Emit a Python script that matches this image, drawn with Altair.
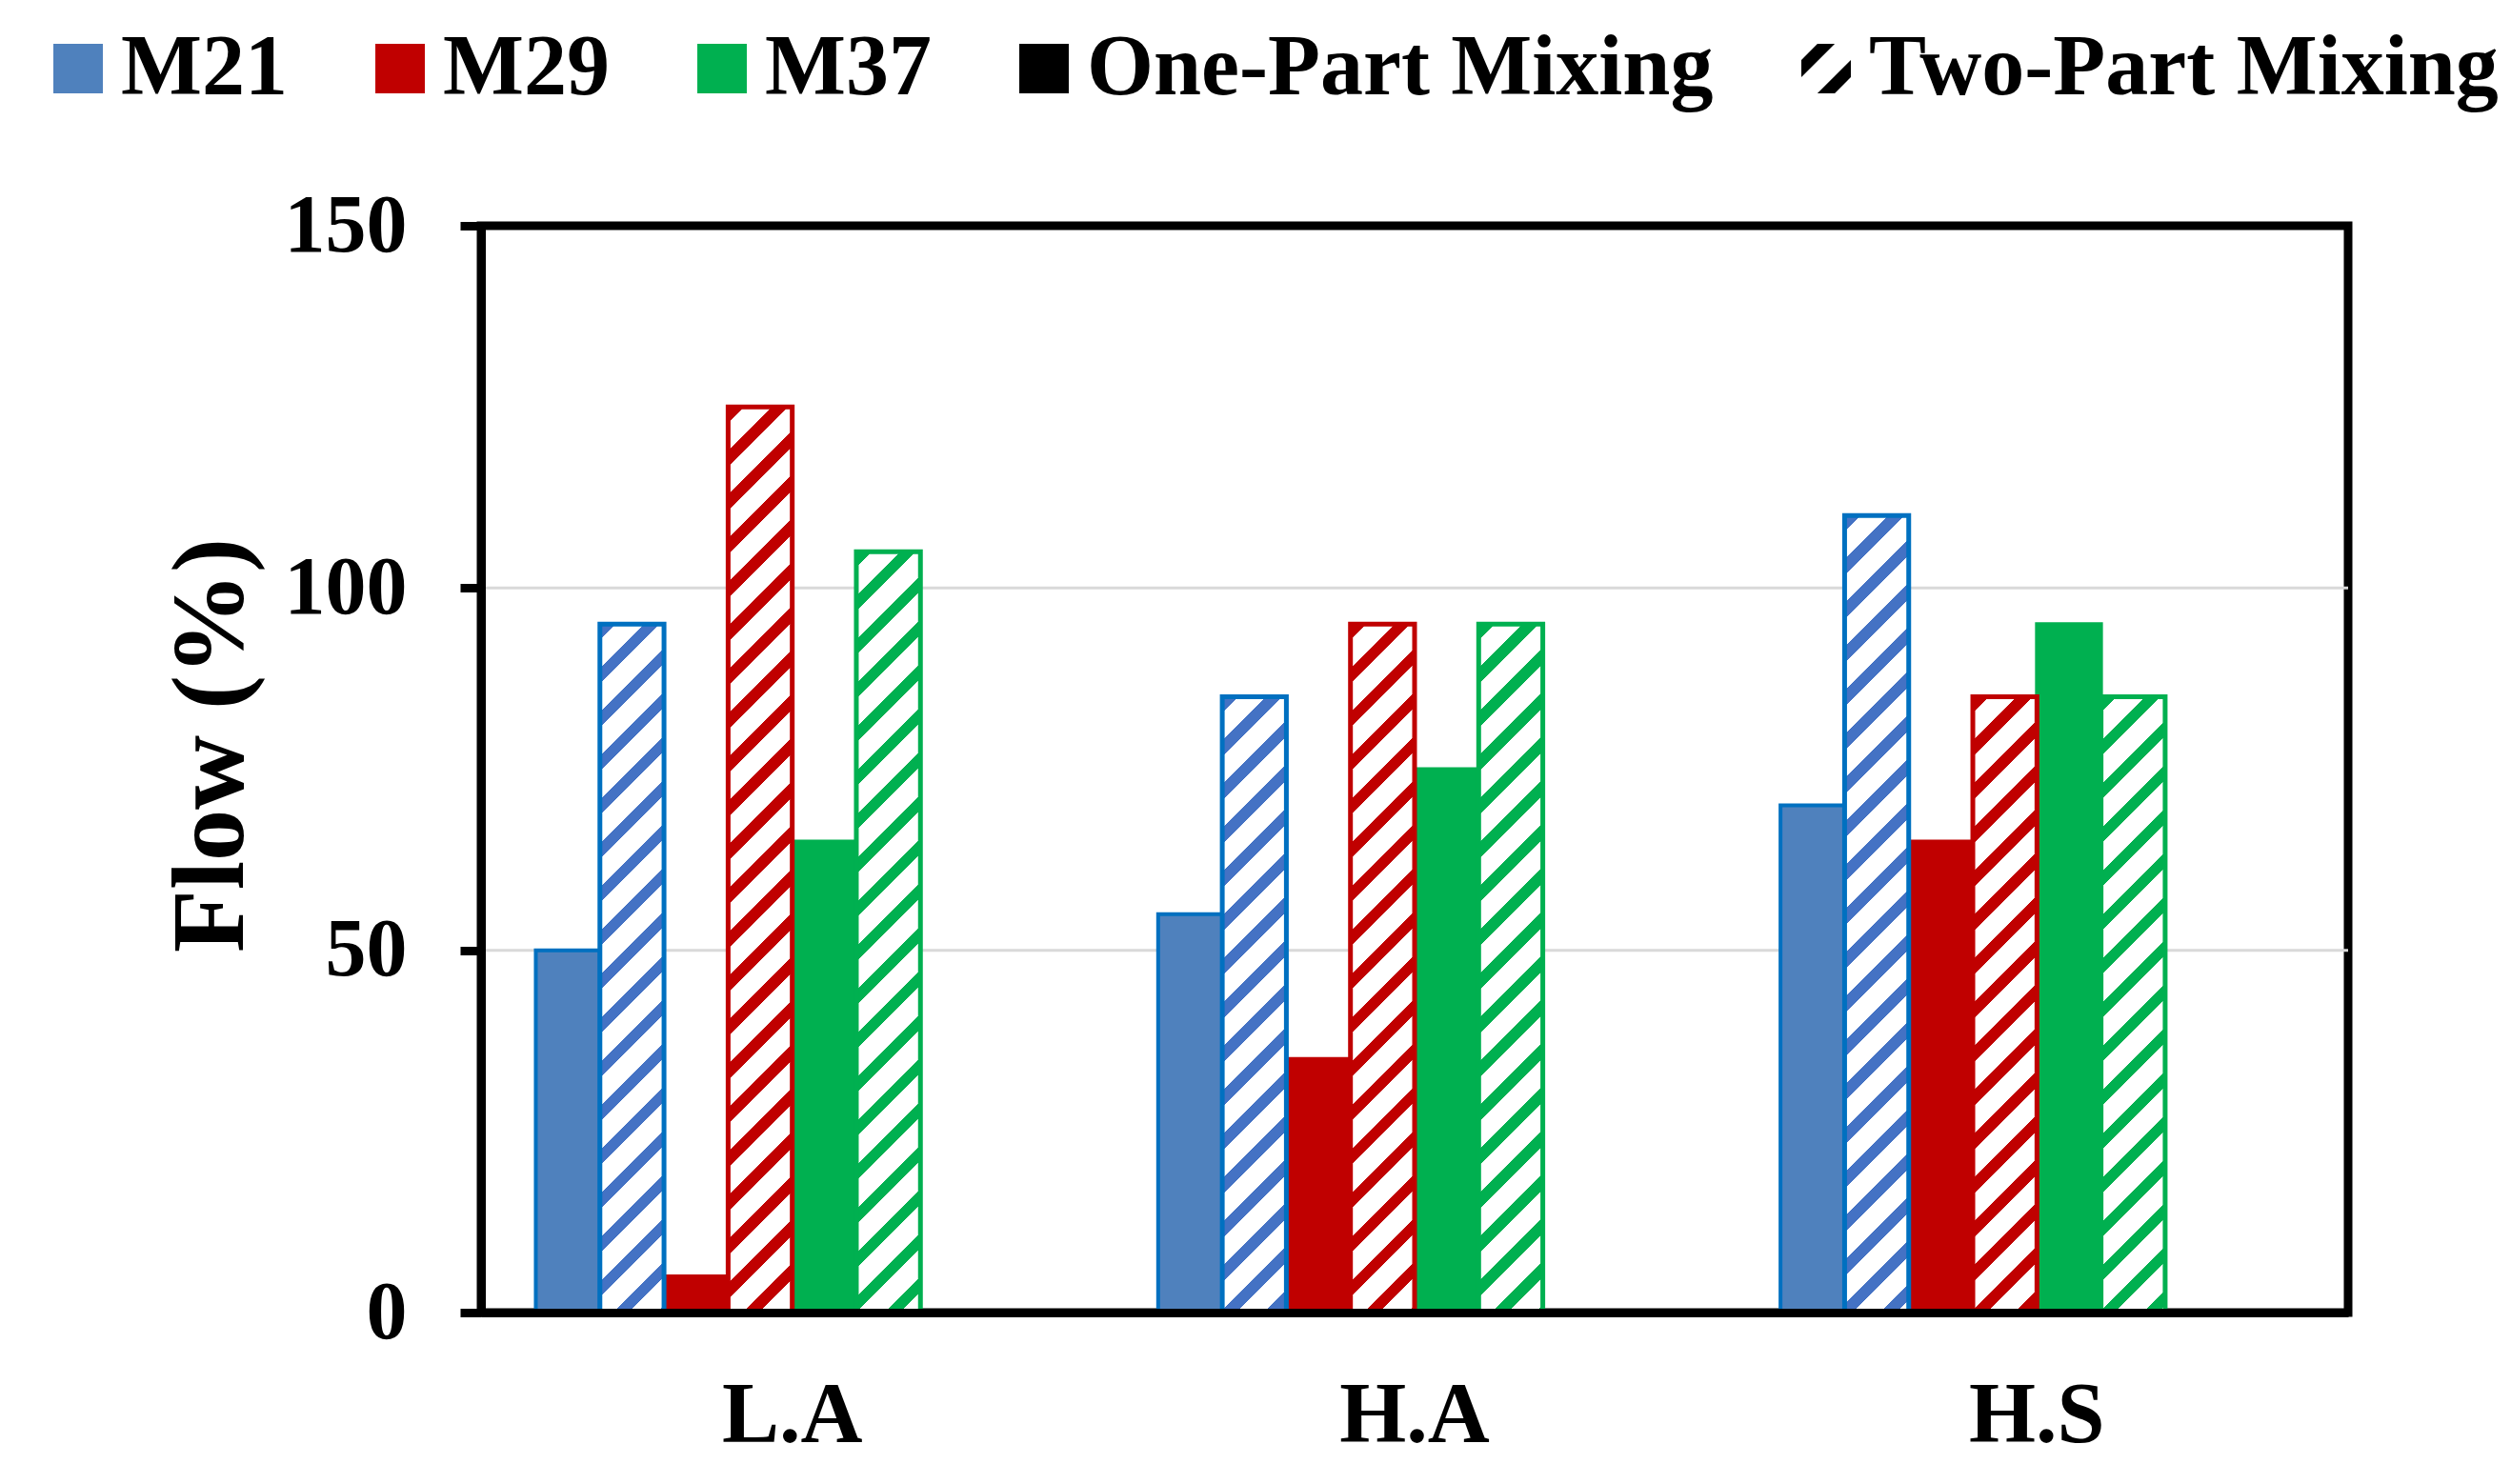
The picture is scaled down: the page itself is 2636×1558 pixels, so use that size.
import altair as alt
import pandas as pd

# ---------------- data ----------------
categories = ["L.A", "H.A", "H.S"]
series = ["M21", "M29", "M37"]
one_part = {"M21": [50, 55, 70], "M29": [5, 35, 65], "M37": [65, 75, 95]}
two_part = {"M21": [95, 85, 110], "M29": [125, 95, 85], "M37": [105, 95, 85]}
y_ticks = [0, 50, 100, 150]
grid_values = [50, 100]
legend_labels = ["M21", "M29", "M37", "One-Part Mixing", "Two-Part Mixing"]

# ---------------- styles ----------------
FONT = "Liberation Serif"
fill_colors = {"M21": "#4F81BD", "M29": "#C00000", "M37": "#00B050"}
stroke_colors = {"M21": "#0070C0", "M29": "#C00000", "M37": "#00B050"}
stripe_colors = {"M21": "#4472C4", "M29": "#C00000", "M37": "#00B050"}

W, H = 1960, 1141
Y_MAX = 150
PAD_OUTER = 0.854
N_SLOTS = 8  # 6 bars + 2 empty slots on the right (as in the original grouping)
BAR_W = (W / 3) / (N_SLOTS + 2 * PAD_OUTER)

rows = []
for s in series:
    for i, c in enumerate(categories):
        rows.append({"category": c, "series": s, "mixing": "One", "slot": s + " one", "value": one_part[s][i]})
        rows.append({"category": c, "series": s, "mixing": "Two", "slot": s + " two", "value": two_part[s][i]})
df = pd.DataFrame(rows)
slot_order = [f"{s} {m}" for s in series for m in ("one", "two")] + ["_empty1", "_empty2"]

yscale = alt.Scale(domain=[0, Y_MAX], nice=False, zero=True)
xscale = alt.Scale(domain=categories, paddingInner=0, paddingOuter=0)
xoff_scale = alt.Scale(domain=slot_order, paddingInner=0, paddingOuter=PAD_OUTER)

yaxis = alt.Axis(
    values=y_ticks, grid=False, domain=True, domainColor="black", domainWidth=9,
    ticks=True, tickSize=22, tickWidth=9, tickColor="black",
    labelFont=FONT, labelFontWeight="bold", labelFontSize=86, labelColor="black", labelPadding=56,
    titleFont=FONT, titleFontSize=108, titleFontWeight="bold", titleColor="black", titlePadding=28,
    titleY=545,
    zindex=1,
)
xaxis = alt.Axis(
    ticks=False, domain=True, domainColor="black", domainWidth=9, labelAngle=0, grid=False,
    labelFont=FONT, labelFontWeight="bold", labelFontSize=90, labelColor="black", labelPadding=64,
    zindex=1,
)

X = alt.X("category:N", sort=categories, scale=xscale, axis=xaxis, title=None)
XO = alt.XOffset("slot:N", scale=xoff_scale)


def Y(field):
    return alt.Y(field, scale=yscale, axis=yaxis, title="Flow (%)")


def hatch(color, h, w=BAR_W, period=46.0, frac=0.36):
    total = w + h
    n = total / period
    stops = []
    k = 0
    while k < n:
        a = k / n
        b = min((k + frac) / n, 1.0)
        c = min((k + 1) / n, 1.0)
        stops += [
            {"offset": a, "color": color},
            {"offset": b, "color": color},
            {"offset": b, "color": "white"},
            {"offset": c, "color": "white"},
        ]
        k += 1
    g = (w + h) / (w * w + h * h)
    return {"gradient": "linear", "x1": 0, "y1": 0, "x2": w * g, "y2": h * g, "stops": stops}


# grid lines
grid = alt.Chart(pd.DataFrame({"g": grid_values})).mark_rule(color="#D9D9D9", strokeWidth=3).encode(
    y=Y("g:Q")
)

# solid (one-part) bars
solid = alt.Chart(df).transform_filter(alt.datum.mixing == "One").mark_bar(strokeWidth=4).encode(
    x=X, xOffset=XO, y=Y("value:Q"),
    fill=alt.Fill("series:N", scale=alt.Scale(domain=series, range=[fill_colors[s] for s in series]), legend=None),
    stroke=alt.Stroke("series:N", scale=alt.Scale(domain=series, range=[stroke_colors[s] for s in series]), legend=None),
)

# hatched (two-part) bars, one layer per bar so each gets its own stripe gradient
hatched_layers = []
for s in series:
    for i, c in enumerate(categories):
        v = two_part[s][i]
        h = v * H / Y_MAX
        layer = alt.Chart(df).transform_filter(
            (alt.datum.mixing == "Two") & (alt.datum.series == s) & (alt.datum.category == c)
        ).mark_bar(fill=hatch(stripe_colors[s], h), stroke=stroke_colors[s], strokeWidth=5).encode(
            x=X, xOffset=XO, y=Y("value:Q"),
        )
        hatched_layers.append(layer)

# legend carrier layer
hatch_path = "M-1,-0.35L-0.35,-1L0.35,-1L-1,0.35Z M1,0.35L0.35,1L-0.35,1L1,-0.35Z"
leg = alt.Legend(
    orient="none", legendX=-468, legendY=-210, direction="horizontal", title=None,
    labelFont=FONT, labelFontWeight="bold", labelFontSize=90, labelColor="black", labelLimit=3000,
    symbolSize=2700, symbolStrokeWidth=0, symbolOpacity=1, labelOffset=0, columnPadding=73, padding=0,
)
legend_layer = alt.Chart(pd.DataFrame({"key": legend_labels})).mark_point(filled=True, opacity=0).encode(
    color=alt.Color("key:N", scale=alt.Scale(domain=legend_labels,
                                             range=["#4F81BD", "#C00000", "#00B050", "#000000", "#000000"]),
                    legend=leg),
    shape=alt.Shape("key:N", scale=alt.Scale(domain=legend_labels,
                                             range=["square", "square", "square", "square", hatch_path]),
                    legend=leg),
)

chart = alt.layer(grid, solid, *hatched_layers, legend_layer).properties(
    width=W, height=H,
    background="white",
    autosize=alt.AutoSizeParams(type="none"),
    padding={"left": 497, "top": 229, "right": 160, "bottom": 160},
).configure_view(stroke="black", strokeWidth=9)

chart.save("out.html", embed_options={"renderer": "svg", "actions": False})
